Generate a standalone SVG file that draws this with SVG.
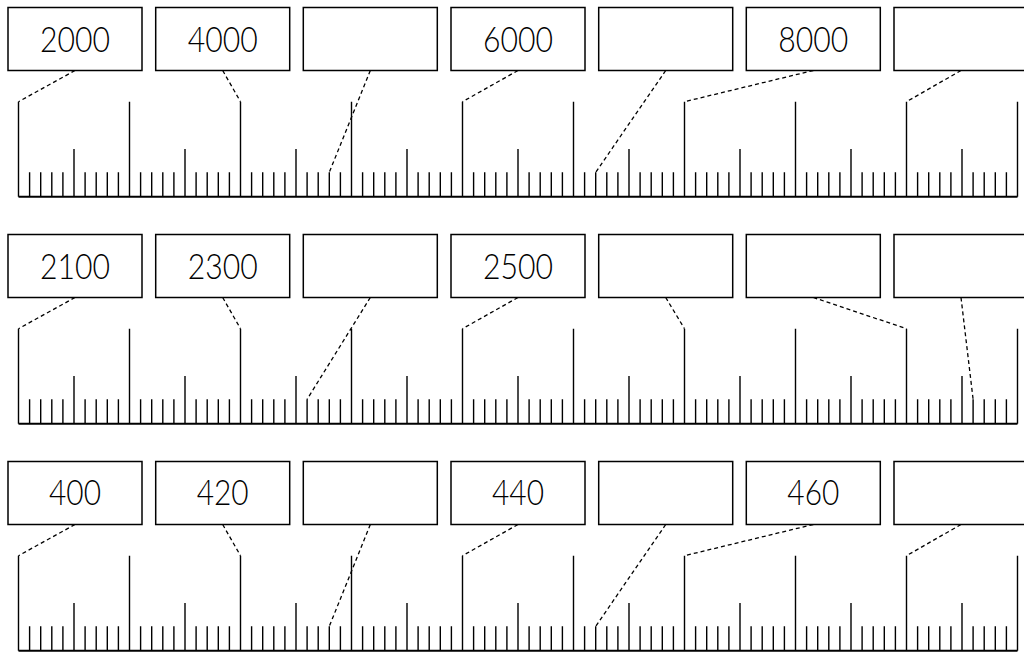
<svg xmlns="http://www.w3.org/2000/svg" xmlns:xlink="http://www.w3.org/1999/xlink" width="1024" height="653" viewBox="0 0 1024 653">
<style>
.box{fill:#fff;stroke:#000;stroke-width:1.5}
.lbl{font-family:"Lato","Liberation Sans",sans-serif;font-weight:300;font-size:35px;fill:#000;text-anchor:middle}
.tick{fill:none;stroke:#000;stroke-width:1.4}
.base{fill:none;stroke:#000;stroke-width:2}
.dash{fill:none;stroke:#000;stroke-width:1.3;stroke-dasharray:4 3}
</style>
<defs>
<g id="ruler">
<path class="base" d="M18.5 196.7H1017.5"/>
<path class="tick" d="M18.5 101.7V196.7M129.5 101.7V196.7M240.5 101.7V196.7M351.5 101.7V196.7M462.5 101.7V196.7M573.5 101.7V196.7M684.5 101.7V196.7M795.5 101.7V196.7M906.5 101.7V196.7M1017.5 101.7V196.7
M74 149V196.7M185 149V196.7M296 149V196.7M407 149V196.7M518 149V196.7M629 149V196.7M740 149V196.7M851 149V196.7M962 149V196.7
M29.6 172.3v24.4M40.7 172.3v24.4M51.8 172.3v24.4M62.9 172.3v24.4M85.1 172.3v24.4M96.2 172.3v24.4M107.3 172.3v24.4M118.4 172.3v24.4
M140.6 172.3v24.4M151.7 172.3v24.4M162.8 172.3v24.4M173.9 172.3v24.4M196.1 172.3v24.4M207.2 172.3v24.4M218.3 172.3v24.4M229.4 172.3v24.4
M251.6 172.3v24.4M262.7 172.3v24.4M273.8 172.3v24.4M284.9 172.3v24.4M307.1 172.3v24.4M318.2 172.3v24.4M329.3 172.3v24.4M340.4 172.3v24.4
M362.6 172.3v24.4M373.7 172.3v24.4M384.8 172.3v24.4M395.9 172.3v24.4M418.1 172.3v24.4M429.2 172.3v24.4M440.3 172.3v24.4M451.4 172.3v24.4
M473.6 172.3v24.4M484.7 172.3v24.4M495.8 172.3v24.4M506.9 172.3v24.4M529.1 172.3v24.4M540.2 172.3v24.4M551.3 172.3v24.4M562.4 172.3v24.4
M584.6 172.3v24.4M595.7 172.3v24.4M606.8 172.3v24.4M617.9 172.3v24.4M640.1 172.3v24.4M651.2 172.3v24.4M662.3 172.3v24.4M673.4 172.3v24.4
M695.6 172.3v24.4M706.7 172.3v24.4M717.8 172.3v24.4M728.9 172.3v24.4M751.1 172.3v24.4M762.2 172.3v24.4M773.3 172.3v24.4M784.4 172.3v24.4
M806.6 172.3v24.4M817.7 172.3v24.4M828.8 172.3v24.4M839.9 172.3v24.4M862.1 172.3v24.4M873.2 172.3v24.4M884.3 172.3v24.4M895.4 172.3v24.4
M917.6 172.3v24.4M928.7 172.3v24.4M939.8 172.3v24.4M950.9 172.3v24.4M973.1 172.3v24.4M984.2 172.3v24.4M995.3 172.3v24.4M1006.4 172.3v24.4"/>
</g>
</defs>
<g id="rulers">
<use xlink:href="#ruler" href="#ruler"/>
<use xlink:href="#ruler" href="#ruler" y="227"/>
<use xlink:href="#ruler" href="#ruler" y="454"/>
</g>
<g id="connectors">
<path class="dash" d="M75 70.5L18.5 101.7M222.7 70.5L240.5 101.7M370.3 70.5L329.3 172.3M518 70.5L462.5 101.7M665.7 70.5L595.7 172.3M813.3 70.5L684.5 101.7M961 70.5L906.5 101.7"/>
<path class="dash" d="M75 297.5L18.5 328.7M222.7 297.5L240.5 328.7M370.3 297.5L307.1 399.3M518 297.5L462.5 328.7M665.7 297.5L684.5 328.7M813.3 297.5L906.5 328.7M961 297.5L973.1 399.3"/>
<path class="dash" d="M75 524.5L18.5 555.7M222.7 524.5L240.5 555.7M370.3 524.5L329.3 626.3M518 524.5L462.5 555.7M665.7 524.5L595.7 626.3M813.3 524.5L684.5 555.7M961 524.5L906.5 555.7"/>
</g>
<g id="r1b1"><rect class="box" x="8" y="7.5" width="134" height="63"/><text class="lbl" x="75" y="52" textLength="70" lengthAdjust="spacingAndGlyphs">2000</text></g>
<g id="r1b2"><rect class="box" x="155.7" y="7.5" width="134" height="63"/><text class="lbl" x="222.7" y="52" textLength="70" lengthAdjust="spacingAndGlyphs">4000</text></g>
<g id="r1b3"><rect class="box" x="303.3" y="7.5" width="134" height="63"/></g>
<g id="r1b4"><rect class="box" x="451" y="7.5" width="134" height="63"/><text class="lbl" x="518" y="52" textLength="70" lengthAdjust="spacingAndGlyphs">6000</text></g>
<g id="r1b5"><rect class="box" x="598.7" y="7.5" width="134" height="63"/></g>
<g id="r1b6"><rect class="box" x="746.3" y="7.5" width="134" height="63"/><text class="lbl" x="813.3" y="52" textLength="70" lengthAdjust="spacingAndGlyphs">8000</text></g>
<g id="r1b7"><rect class="box" x="894" y="7.5" width="134" height="63"/></g>
<g id="r2b1"><rect class="box" x="8" y="234.5" width="134" height="63"/><text class="lbl" x="75" y="278.5" textLength="70" lengthAdjust="spacingAndGlyphs">2100</text></g>
<g id="r2b2"><rect class="box" x="155.7" y="234.5" width="134" height="63"/><text class="lbl" x="222.7" y="278.5" textLength="70" lengthAdjust="spacingAndGlyphs">2300</text></g>
<g id="r2b3"><rect class="box" x="303.3" y="234.5" width="134" height="63"/></g>
<g id="r2b4"><rect class="box" x="451" y="234.5" width="134" height="63"/><text class="lbl" x="518" y="278.5" textLength="70" lengthAdjust="spacingAndGlyphs">2500</text></g>
<g id="r2b5"><rect class="box" x="598.7" y="234.5" width="134" height="63"/></g>
<g id="r2b6"><rect class="box" x="746.3" y="234.5" width="134" height="63"/></g>
<g id="r2b7"><rect class="box" x="894" y="234.5" width="134" height="63"/></g>
<g id="r3b1"><rect class="box" x="8" y="461.5" width="134" height="63"/><text class="lbl" x="75" y="505" textLength="52" lengthAdjust="spacingAndGlyphs">400</text></g>
<g id="r3b2"><rect class="box" x="155.7" y="461.5" width="134" height="63"/><text class="lbl" x="222.7" y="505" textLength="52" lengthAdjust="spacingAndGlyphs">420</text></g>
<g id="r3b3"><rect class="box" x="303.3" y="461.5" width="134" height="63"/></g>
<g id="r3b4"><rect class="box" x="451" y="461.5" width="134" height="63"/><text class="lbl" x="518" y="505" textLength="52" lengthAdjust="spacingAndGlyphs">440</text></g>
<g id="r3b5"><rect class="box" x="598.7" y="461.5" width="134" height="63"/></g>
<g id="r3b6"><rect class="box" x="746.3" y="461.5" width="134" height="63"/><text class="lbl" x="813.3" y="505" textLength="52" lengthAdjust="spacingAndGlyphs">460</text></g>
<g id="r3b7"><rect class="box" x="894" y="461.5" width="134" height="63"/></g>
</svg>
